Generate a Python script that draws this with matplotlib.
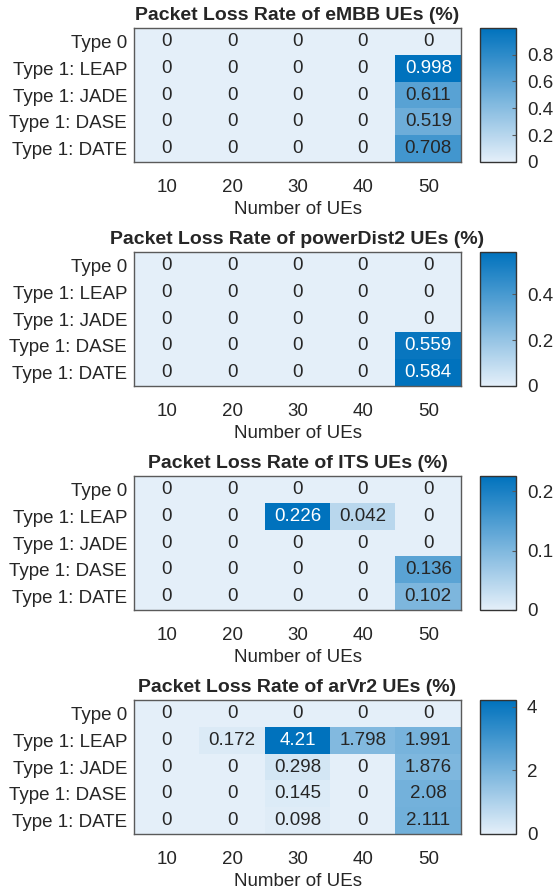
# -*- coding: utf-8 -*-
"""
Packet loss rate heatmaps, four UE classes
"""

import numpy as np
import matplotlib
matplotlib.use('Agg')
import matplotlib.pyplot as plt
from matplotlib.colors import LinearSegmentedColormap

plt.rcParams['font.family'] = ['Liberation Sans', 'DejaVu Sans']

#%% data

row_labels = ['Type 0', 'Type 1: LEAP', 'Type 1: JADE', 'Type 1: DASE', 'Type 1: DATE']
num_ues = [10, 20, 30, 40, 50]

embb = [[0, 0, 0, 0, 0],
        [0, 0, 0, 0, 0.998],
        [0, 0, 0, 0, 0.611],
        [0, 0, 0, 0, 0.519],
        [0, 0, 0, 0, 0.708]]

power_dist2 = [[0, 0, 0, 0, 0],
               [0, 0, 0, 0, 0],
               [0, 0, 0, 0, 0],
               [0, 0, 0, 0, 0.559],
               [0, 0, 0, 0, 0.584]]

its = [[0, 0, 0, 0, 0],
       [0, 0, 0.226, 0.042, 0],
       [0, 0, 0, 0, 0],
       [0, 0, 0, 0, 0.136],
       [0, 0, 0, 0, 0.102]]

arvr2 = [[0, 0, 0, 0, 0],
         [0, 0.172, 4.21, 1.798, 1.991],
         [0, 0, 0.298, 0, 1.876],
         [0, 0, 0.145, 0, 2.08],
         [0, 0, 0.098, 0, 2.111]]

titles = ['Packet Loss Rate of eMBB UEs (%)',
          'Packet Loss Rate of powerDist2 UEs (%)',
          'Packet Loss Rate of ITS UEs (%)',
          'Packet Loss Rate of arVr2 UEs (%)']
cbar_ticks = [[0, 0.2, 0.4, 0.6, 0.8], [0, 0.2, 0.4], [0, 0.1, 0.2], [0, 2, 4]]

#%% plotting

W, H = 559, 892
text_col = '#262626'
edge_col = '#5a5a5a'
fs = 13.5
cmap = LinearSegmentedColormap.from_list('matblue', ['#E4EFF9', '#0072BD'])

fig = plt.figure(figsize=(W / 100, H / 100), dpi=100)

tops = [28, 252, 476, 700]
hm_h = 134

for k, data in enumerate([embb, power_dist2, its, arvr2]):
    z = np.array(data, dtype=float)
    top = tops[k]
    ax = fig.add_axes([134 / W, 1 - (top + hm_h) / H, 327 / W, hm_h / H])
    cax = fig.add_axes([480 / W, 1 - (top + hm_h) / H, 36 / W, hm_h / H])

    vmax = z.max()
    im = ax.imshow(z, cmap=cmap, vmin=0, vmax=vmax, aspect='auto',
                   interpolation='nearest')
    for i in range(z.shape[0]):
        for j in range(z.shape[1]):
            c = 'white' if z[i, j] / vmax > 0.8 else text_col
            ax.text(j, i, '{:g}'.format(z[i, j]), ha='center', va='center',
                    fontsize=fs, color=c)

    ax.set_xticks(range(len(num_ues)))
    ax.set_xticklabels([str(n) for n in num_ues])
    ax.set_yticks(range(len(row_labels)))
    ax.set_yticklabels(row_labels)
    ax.tick_params(length=0, labelsize=fs, colors=text_col, pad=5)
    ax.tick_params(axis='x', pad=12)
    ax.set_xlabel('Number of UEs', fontsize=fs, color=text_col, labelpad=4)
    ax.set_title(titles[k], fontsize=14, fontweight='bold', color=text_col, pad=6)
    for s in ax.spines.values():
        s.set_color(edge_col)
        s.set_linewidth(1.0)

    cb = fig.colorbar(im, cax=cax, ticks=cbar_ticks[k])
    cb.ax.tick_params(direction='in', length=3, labelsize=fs, colors=text_col,
                      pad=8, color=edge_col)
    cb.ax.set_yticklabels(['{:g}'.format(t) for t in cbar_ticks[k]])
    cb.outline.set_edgecolor('#333333')
    cb.outline.set_linewidth(1.0)

plt.savefig('out.png', dpi=100)
